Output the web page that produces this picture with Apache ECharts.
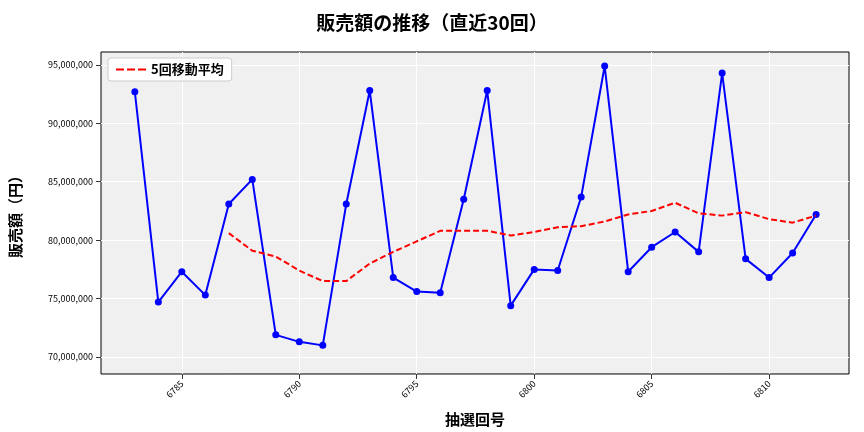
<!DOCTYPE html>
<html><head><meta charset="utf-8">
<script src="https://cdn.jsdelivr.net/npm/echarts@6/dist/echarts.min.js"></script>
<style>html,body{margin:0;padding:0;background:#fff}#c{width:864px;height:432px}</style>
</head><body><div id="c"></div>
<script>
const draws=[6783,6784,6785,6786,6787,6788,6789,6790,6791,6792,6793,6794,6795,6796,6797,6798,6799,6800,6801,6802,6803,6804,6805,6806,6807,6808,6809,6810,6811,6812];
const sales=[92.7,74.7,77.3,75.3,83.1,85.2,71.9,71.3,71.0,83.1,92.8,76.8,75.6,75.5,83.5,92.8,74.4,77.5,77.4,83.7,94.9,77.3,79.4,80.7,79.0,94.3,78.4,76.8,78.9,82.2];
const ma5=[null,null,null,null,80.6,79.1,78.6,77.4,76.5,76.5,78.0,79.0,79.9,80.8,80.8,80.8,80.4,80.7,81.1,81.2,81.6,82.2,82.5,83.2,82.3,82.1,82.4,81.8,81.5,82.1];
const xTicks=[6785,6790,6795,6800,6805,6810];
const yTicks=[70e6,75e6,80e6,85e6,90e6,95e6];
const M=1e6;
const font='"Noto Sans CJK JP","DejaVu Sans",sans-serif';
const ch=echarts.init(document.getElementById('c'));
ch.setOption({
 animation:false,
 title:{text:'販売額の推移（直近30回）',left:'center',top:8,textStyle:{fontFamily:font,fontSize:19,fontWeight:'bold',color:'#000'}},
 legend:{left:108,top:58,orient:'vertical',backgroundColor:'#fff',borderColor:'#ccc',borderWidth:1,borderRadius:3,padding:[5,8],itemWidth:30,itemHeight:4,textStyle:{fontFamily:font,fontSize:13,color:'#000',fontWeight:'bold'},data:[{name:'5回移動平均',icon:'path://M0,0h8v2h-8z M11,0h8v2h-8z M22,0h8v2h-8z'}]},
 grid:{left:100,right:15,top:52,bottom:57,backgroundColor:'#f0f0f0',show:true,borderColor:'#000',borderWidth:1},
 xAxis:{type:'value',min:6781.56,max:6813.4,name:'抽選回号',nameLocation:'middle',nameGap:38,nameTextStyle:{fontFamily:font,fontSize:15,color:'#000',fontWeight:'bold'},
  axisLine:{show:false},axisTick:{show:true,customValues:xTicks,lineStyle:{color:'#333'}},
  axisLabel:{customValues:xTicks,rotate:45,fontSize:9,color:'#000',fontFamily:font,formatter:v=>String(v)},
  splitLine:{show:true,lineStyle:{color:'#fff',width:1}}},
 yAxis:{type:'value',min:68.55*M,max:96.1*M,name:'販売額（円）',nameLocation:'middle',nameGap:78,nameTextStyle:{fontFamily:font,fontSize:15,color:'#000',fontWeight:'bold'},
  axisLine:{show:false},axisTick:{show:true,customValues:yTicks,lineStyle:{color:'#333'}},
  axisLabel:{customValues:yTicks,fontSize:9,color:'#000',fontFamily:font,formatter:v=>v.toLocaleString('en-US')},
  splitLine:{show:true,lineStyle:{color:'#fff',width:1}}},
 series:[
  {name:'販売額',type:'line',data:draws.map((d,i)=>[d,sales[i]*M]),symbol:'circle',symbolSize:7,lineStyle:{color:'#0000ff',width:2},itemStyle:{color:'#0000ff'},z:2},
  {name:'5回移動平均',type:'line',data:draws.map((d,i)=>[d,ma5[i]==null?null:ma5[i]*M]),showSymbol:false,symbol:'none',lineStyle:{color:'#ff0000',width:2,type:[6,3]},itemStyle:{color:'#ff0000'},z:3}
 ]
});
</script></body></html>
